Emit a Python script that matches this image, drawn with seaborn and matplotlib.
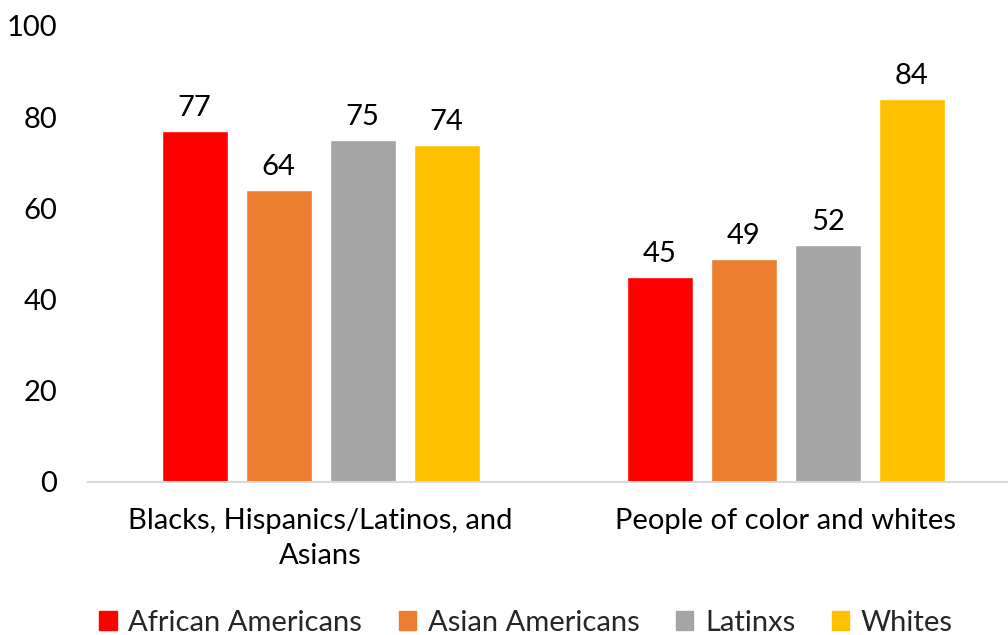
import matplotlib
matplotlib.use("Agg")
import matplotlib.pyplot as plt
import matplotlib.patches as mpatches
import seaborn as sns
import pandas as pd

# Chart data
groups = ["Blacks, Hispanics/Latinos, and\nAsians", "People of color and whites"]
series = ["African Americans", "Asian Americans", "Latinxs", "Whites"]
african_americans = [77, 45]
asian_americans = [64, 49]
latinxs = [75, 52]
whites = [74, 84]
y_ticks = [0, 20, 40, 60, 80, 100]

colors = ["#FF0000", "#ED7D31", "#A5A5A5", "#FFC000"]

rows = []
for name, vals in zip(series, [african_americans, asian_americans, latinxs, whites]):
    for g, v in zip(groups, vals):
        rows.append({"group": g, "series": name, "value": v})
df = pd.DataFrame(rows)

sns.set_theme(style="white")
plt.rcParams["font.family"] = ["Lato", "DejaVu Sans"]
FS = 21

fig = plt.figure(figsize=(10.08, 6.35), dpi=100)
ax = fig.add_axes([88 / 1008, 1 - 482 / 635, 1 - 88 / 1008, (482 - 26) / 635])

sns.barplot(data=df, x="group", y="value", hue="series", hue_order=series,
            order=groups, palette=colors, width=0.7226, gap=0.214,
            saturation=1, legend=False, ax=ax)

for cont in ax.containers:
    ax.bar_label(cont, fmt="%d", padding=7, fontsize=FS, color="black")

ax.set_ylim(0, 100)
ax.set_xlim(-0.5, 1 + (1008 - 786) / 465)
ax.set_yticks(y_ticks)
ax.set_yticklabels([str(t) for t in y_ticks])
ax.set_xlabel("")
ax.set_ylabel("")
ax.tick_params(axis="y", length=0, pad=22, labelsize=FS, labelcolor="black")
ax.tick_params(axis="x", length=0, pad=19, labelsize=FS, labelcolor="black")
for lbl in ax.get_xticklabels():
    lbl.set_linespacing(1.4)
ax.grid(False)
for side in ["top", "right", "left"]:
    ax.spines[side].set_visible(False)
ax.spines["bottom"].set_color("#D9D9D9")
ax.spines["bottom"].set_linewidth(1.5)

handles = [mpatches.Patch(color=c, label=s) for c, s in zip(colors, series)]
fig.legend(handles=handles, loc="center", bbox_to_anchor=(526 / 1008, 1 - 623 / 635),
           ncol=4, frameon=False, fontsize=FS, handlelength=0.6, handleheight=0.6,
           handletextpad=0.4, columnspacing=1.25)

fig.savefig("out.png", dpi=100)
